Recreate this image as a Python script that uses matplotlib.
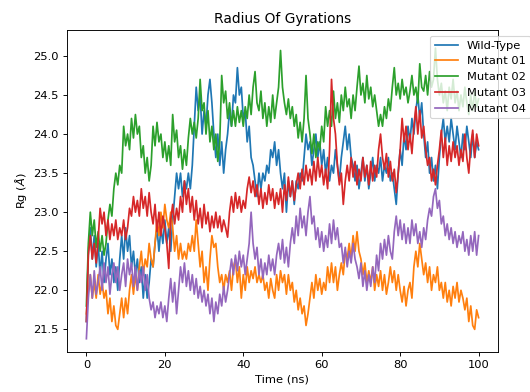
import numpy as np
import matplotlib
matplotlib.use("Agg")
import matplotlib.pyplot as plt

# Time axis (ns), sampled every 0.5 ns
time_ns = np.arange(0, 100.5, 0.5)

# Rg values (Angstrom), rows of 5 ns
wild_type = [
    21.6, 22.5, 22.8, 22.4, 22.7, 22.3, 22.6, 22.2, 22.5, 22.1,
    22.4, 22.6, 22.2, 22.4, 22.1, 22.3, 22.0, 22.4, 22.7, 22.4,
    22.8, 22.5, 22.7, 22.3, 22.5, 22.2, 22.4, 22.1, 22.3, 21.9,
    22.2, 21.9, 22.1, 22.4, 22.3, 22.6, 22.8, 22.5, 22.8, 22.6,
    22.9, 22.6, 22.8, 22.5, 22.9, 23.2, 23.5, 23.3, 23.5, 23.2,
    23.4, 23.3, 23.5, 23.3, 23.6, 24.1, 24.6, 24.3, 24.5, 24.0,
    24.3, 24.1, 24.5, 24.7, 24.4, 24.0, 23.7, 24.0, 23.6, 23.9,
    23.5, 23.8, 24.0, 24.3, 24.1, 24.5, 24.4, 24.85, 24.5, 24.6,
    24.2, 24.3, 23.9, 24.1, 23.7, 23.6, 23.4, 23.2, 23.5, 23.3,
    23.5, 23.4, 23.6, 23.5, 23.8, 23.7, 23.9, 23.6, 23.8, 23.5,
    23.3, 23.5, 23.0, 23.4, 23.2, 23.4, 23.1, 23.4, 23.3, 23.5,
    23.4, 23.7, 24.0, 23.8, 23.9, 23.6, 23.8, 24.0, 23.7, 23.9,
    23.6, 23.8, 23.5, 23.7, 23.4, 23.6, 23.5, 23.8, 23.6, 23.4,
    23.7, 23.9, 24.1, 23.8, 24.0, 23.7, 23.6, 23.4, 23.6, 23.3,
    23.5, 23.7, 23.4, 23.6, 23.3, 23.5, 23.7, 23.4, 23.6, 23.5,
    23.7, 23.4, 23.6, 23.5, 23.7, 23.4, 23.5, 23.3, 23.1, 23.5,
    23.8, 23.6, 24.0, 23.8, 24.1, 23.9, 24.2, 24.0, 24.3, 24.5,
    24.2, 24.4, 24.0, 23.7, 23.9, 23.5, 23.7, 23.4, 23.6, 23.3,
    23.7, 24.0, 24.2, 23.9, 24.1, 23.9, 24.2, 24.0, 23.8, 24.1,
    23.9, 23.7, 24.0, 23.8, 24.1, 23.9, 23.7, 24.0, 23.7, 23.9,
    23.8,
]

mutant_01 = [
    21.7, 22.0, 22.2, 21.9, 22.1, 21.9, 22.2, 21.95, 22.1, 21.9,
    22.0, 21.7, 21.9, 21.6, 21.8, 21.55, 21.5, 21.7, 21.9, 21.65,
    21.9, 21.7, 22.0, 22.2, 21.95, 22.2, 22.0, 22.3, 22.5, 22.2,
    22.4, 22.3, 22.6, 22.4, 22.3, 22.6, 22.9, 22.7, 23.0, 22.8,
    23.1, 22.9, 22.8, 23.0, 22.8, 22.5, 22.7, 22.4, 22.6, 22.4,
    22.5, 22.4, 22.6, 22.5, 22.7, 22.5, 22.9, 22.6, 22.3, 22.5,
    22.1, 22.3, 22.0, 22.4, 22.7, 22.55, 22.6, 22.3, 22.1, 22.2,
    22.0, 22.2, 22.1, 22.25, 22.0, 22.3, 22.4, 22.1, 22.3, 21.9,
    22.2, 22.0, 22.3, 22.1, 22.25, 22.15, 22.3, 22.1, 22.2, 22.1,
    22.2, 22.0, 22.1, 21.9, 22.15, 22.0, 21.9, 22.2, 22.0, 22.25,
    22.1, 22.2, 21.95, 22.2, 22.0, 22.1, 21.85, 22.0, 21.75, 21.9,
    21.7, 21.8, 21.55, 21.7, 21.9, 22.1, 21.9, 22.2, 22.0, 22.15,
    21.95, 22.1, 22.0, 22.3, 22.1, 22.35, 22.1, 22.3, 22.0, 22.2,
    22.35, 22.2, 22.5, 22.4, 22.6, 22.4, 22.7, 22.5, 22.75, 22.5,
    22.4, 22.2, 22.35, 22.1, 22.25, 22.1, 22.3, 22.0, 22.2, 22.05,
    22.25, 22.0, 22.2, 21.95, 22.1, 22.3, 22.1, 22.25, 22.0, 22.2,
    22.0, 21.85, 22.05, 21.8, 22.0, 22.1, 21.9, 22.3, 22.5, 22.3,
    22.6, 22.4, 22.2, 22.35, 22.1, 22.3, 22.0, 22.2, 22.1, 22.3,
    22.0, 22.1, 21.9, 22.1, 21.85, 22.0, 21.8, 22.05, 21.9, 22.1,
    21.85, 22.0, 21.9, 21.75, 21.9, 21.6, 21.8, 21.55, 21.5, 21.75,
    21.65,
]

mutant_02 = [
    21.8, 22.6, 23.0, 22.7, 22.9, 22.55, 22.75, 22.5, 22.7, 22.45,
    22.6, 22.9, 23.1, 22.95, 23.3, 23.5, 23.35, 23.6, 23.5, 24.1,
    23.85, 24.0, 23.8, 24.2, 23.95, 24.25, 24.0, 24.1, 23.7, 23.85,
    23.5, 23.7, 23.4, 23.6, 24.1, 23.85, 24.15, 23.9, 24.0, 23.7,
    23.9, 23.65, 23.85, 23.6, 24.25, 23.9, 24.05, 23.7, 23.85, 23.55,
    23.8, 23.6, 23.95, 24.2, 24.0, 24.15, 23.95, 24.2, 24.7, 24.3,
    24.4, 24.0, 24.3, 23.9, 24.1, 23.8, 24.0, 23.65, 23.9, 24.75,
    24.4, 24.55, 24.2, 24.4, 24.1, 24.3, 24.1, 24.35, 24.15, 24.3,
    24.1, 24.35, 24.2, 24.5, 24.25, 24.6, 24.8, 24.4, 24.3, 24.55,
    24.2, 24.4, 24.1, 24.35, 24.15, 24.5, 24.2, 24.4, 24.6, 25.07,
    24.6, 24.4, 24.25, 24.45, 24.2, 24.35, 24.1, 24.25, 23.95, 24.15,
    23.9, 24.2, 24.75, 24.2, 24.0, 23.75, 24.0, 23.7, 23.9, 23.8,
    24.1, 23.9, 24.35, 24.1, 24.3, 24.1, 24.55, 24.2, 24.4, 24.15,
    24.5, 24.3, 24.6, 24.35, 24.45, 24.2, 24.5, 24.3, 24.6, 24.87,
    24.5, 24.65, 24.4, 24.75, 24.45, 24.6, 24.35, 24.5, 24.3, 24.1,
    24.25, 24.1, 24.35, 24.2, 24.45, 24.3, 24.6, 24.85, 24.5, 24.65,
    24.45, 24.7, 24.5, 24.6, 24.4, 24.55, 24.75, 24.5, 24.6, 24.4,
    24.9, 24.6, 24.55, 24.75, 24.5, 24.8, 24.6, 24.7, 25.1, 24.7,
    24.5, 24.65, 24.4, 24.55, 24.3, 24.6, 24.45, 24.7, 24.4, 24.55,
    24.3, 24.5, 24.35, 24.6, 24.4, 24.25, 24.5, 24.3, 24.55, 24.35,
    24.45,
]

mutant_03 = [
    21.6, 22.45, 22.7, 22.4, 22.6, 22.35, 22.65, 23.05, 22.85, 23.0,
    22.7, 22.9, 22.65, 22.85, 22.7, 22.9, 22.65, 22.8, 22.7, 22.9,
    22.65, 22.8, 23.05, 22.95, 23.2, 23.0, 23.15, 22.95, 23.3, 23.05,
    23.2, 22.95, 23.25, 23.0, 22.85, 23.1, 22.75, 23.0, 22.7, 22.95,
    22.8, 22.6, 22.28, 22.9, 23.1, 22.85, 23.05, 22.9, 23.2, 23.0,
    23.4, 23.1, 23.3, 23.0, 23.2, 22.9, 23.15, 22.85, 23.05, 22.8,
    23.1, 22.85, 23.0, 22.75, 22.95, 22.8, 23.0, 22.8, 22.95, 22.75,
    22.9, 22.8, 22.68, 23.0, 23.2, 23.0, 23.25, 23.05, 23.2, 23.0,
    23.15, 23.05, 23.3, 23.45, 23.25, 23.4, 23.2, 23.35, 23.1, 23.3,
    23.05, 23.25, 23.1, 23.35, 23.15, 23.3, 23.05, 23.25, 23.1, 23.3,
    23.0, 23.35, 23.15, 23.45, 23.2, 23.4, 23.15, 23.35, 23.5, 23.3,
    23.55, 23.35, 23.6, 23.4, 23.55, 23.35, 23.65, 23.4, 23.7, 23.45,
    23.6, 23.35, 23.55, 23.3, 23.8, 24.7, 24.2, 24.0, 23.6, 23.35,
    23.5, 23.1, 23.4, 23.6, 23.4, 23.7, 23.45, 23.65, 23.35, 23.55,
    23.4, 23.7, 23.45, 23.6, 23.35, 23.65, 23.4, 23.6, 23.45, 23.8,
    24.0, 23.7, 23.55, 23.75, 23.45, 23.65, 23.4, 23.55, 23.25, 23.5,
    23.8, 24.2, 23.9, 24.1, 23.8, 24.0, 23.75, 24.1, 24.35, 24.0,
    24.3, 23.95, 24.1, 23.8, 23.6, 23.7, 23.4, 23.55, 23.35, 23.6,
    23.8, 24.05, 23.7, 23.95, 23.6, 23.85, 23.65, 23.9, 23.7, 23.85,
    23.6, 23.8, 23.65, 24.0, 23.7, 23.5, 23.85, 24.05, 23.7, 24.0,
    23.85,
]

mutant_04 = [
    21.38, 21.9, 22.2, 21.9, 22.25, 21.95, 22.1, 22.3, 22.0, 22.35,
    22.1, 22.3, 21.95, 22.2, 22.35, 22.1, 22.3, 22.0, 22.2, 22.35,
    22.05, 22.4, 22.2, 22.35, 22.05, 22.3, 22.0, 22.25, 22.1, 22.3,
    22.0, 22.2, 21.9, 21.75, 21.85, 21.65, 21.8, 21.7, 21.85, 21.65,
    21.8, 21.6, 21.9, 22.15, 21.85, 22.1, 21.7, 22.0, 22.3, 22.1,
    22.35, 22.05, 22.25, 22.0, 22.2, 21.95, 22.15, 21.9, 22.05, 21.85,
    22.0, 21.8, 21.95, 21.7, 21.9, 21.6, 21.85, 21.7, 21.95, 21.8,
    22.05, 21.85, 22.0, 22.2, 22.4, 22.2, 22.45, 22.25, 22.5, 22.3,
    22.45, 22.2, 22.4, 22.6, 23.0, 22.6, 22.4, 22.55, 22.2, 22.4,
    22.15, 22.35, 22.2, 22.45, 22.25, 22.4, 22.2, 22.45, 22.6, 22.4,
    22.65, 22.35, 22.55, 22.3, 22.6, 22.8, 22.6, 22.95, 22.7, 23.05,
    22.8, 22.95, 22.7, 23.0, 23.2, 22.85, 22.95, 22.65, 22.8, 22.55,
    22.75, 22.5, 22.7, 22.55, 22.85, 22.6, 22.9, 22.65, 22.8, 22.55,
    22.6, 22.35, 22.55, 22.3, 22.5, 22.35, 22.6, 22.4, 22.3, 22.15,
    22.35, 22.05, 22.25, 22.0, 22.2, 22.05, 22.3, 22.1, 22.45, 22.25,
    22.6, 22.4, 22.65, 22.45, 22.7, 22.5, 22.4, 22.75, 22.95, 22.7,
    22.9, 22.65, 22.85, 22.6, 22.8, 22.6, 22.9, 22.7, 22.85, 22.6,
    22.75, 22.55, 22.8, 22.65, 22.9, 23.05, 22.95, 23.2, 23.3, 23.05,
    23.15, 22.85, 22.95, 22.7, 22.85, 22.65, 22.8, 22.6, 22.75, 22.55,
    22.7, 22.6, 22.75, 22.5, 22.65, 22.45, 22.7, 22.5, 22.75, 22.45,
    22.7,
]

labels = ["Wild-Type", "Mutant 01", "Mutant 02", "Mutant 03", "Mutant 04"]
series = [wild_type, mutant_01, mutant_02, mutant_03, mutant_04]

# Reference looks like a default-sized figure shrunk to 530x392,
# so render at a lower dpi to get the same text and line scale
dpi = 82.8
fig = plt.figure(figsize=(530.01 / dpi, 392.01 / dpi), dpi=dpi)
ax = fig.add_axes([0.126, 0.102, 0.814, 0.821])

for values, name in zip(series, labels):
    ax.plot(time_ns, values, label=name)

ax.set_xlim(-5, 105)
ax.set_ylim(21.21, 25.33)
ax.set_xticks([0, 20, 40, 60, 80, 100])
ax.set_yticks([21.5, 22.0, 22.5, 23.0, 23.5, 24.0, 24.5, 25.0])
ax.set_title("Radius Of Gyrations")
ax.set_xlabel("Time (ns)")
ax.set_ylabel(r"Rg ($\AA$)")
ax.legend(loc="upper left", bbox_to_anchor=(0.829, 1.0))

fig.savefig("out.png", dpi=dpi)
